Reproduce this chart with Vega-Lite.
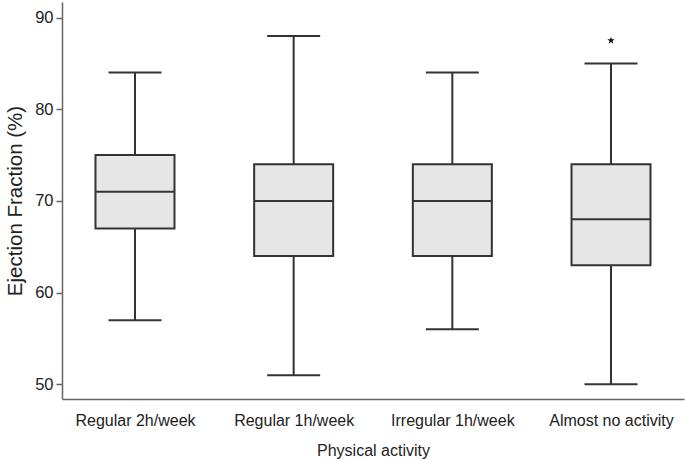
{
  "$schema": "https://vega.github.io/schema/vega-lite/v6.json",
  "autosize": "none",
  "width": 622,
  "height": 397,
  "padding": {"left": 62, "top": 2, "right": 1, "bottom": 60},
  "background": "white",
  "config": {
    "view": {"stroke": null},
    "font": "Liberation Sans",
    "axis": {"labelFont": "Liberation Sans", "titleFont": "Liberation Sans", "labelColor": "#222", "titleColor": "#222", "titleFontWeight": "normal", "domainColor": "#666", "tickColor": "#666", "domainWidth": 1.5, "tickWidth": 1.5, "grid": false}
  },
  "datasets": {
    "boxes": [
      {"activity": "Regular 2h/week", "lower": 57, "q1": 67, "median": 71, "q3": 75, "upper": 84},
      {"activity": "Regular 1h/week", "lower": 51, "q1": 64, "median": 70, "q3": 74, "upper": 88},
      {"activity": "Irregular 1h/week", "lower": 56, "q1": 64, "median": 70, "q3": 74, "upper": 84},
      {"activity": "Almost no activity", "lower": 50, "q1": 63, "median": 68, "q3": 74, "upper": 85}
    ],
    "outliers": [
      {"activity": "Almost no activity", "value": 87.5}
    ]
  },
  "encoding": {
    "x": {
      "field": "activity", "type": "nominal", "sort": null,
      "scale": {"type": "point", "padding": 0.46, "domain": ["Regular 2h/week", "Regular 1h/week", "Irregular 1h/week", "Almost no activity"]},
      "axis": {"title": "Physical activity", "labelAngle": 0, "ticks": false, "labelFontSize": 16, "titleFontSize": 16, "labelPadding": 13, "titlePadding": 14}
    }
  },
  "layer": [
    {
      "data": {"name": "boxes"},
      "mark": {"type": "rule", "color": "#333", "strokeWidth": 2},
      "encoding": {
        "y": {"field": "lower", "type": "quantitative",
          "scale": {"domain": [48.4, 91.7], "nice": false, "zero": false},
          "axis": {"title": "Ejection Fraction (%)", "values": [50, 60, 70, 80, 90], "tickSize": 6, "labelFontSize": 16.5, "titleFontSize": 20.5, "labelPadding": 3, "titlePadding": 9}},
        "y2": {"field": "upper"}
      }
    },
    {
      "data": {"name": "boxes"},
      "mark": {"type": "bar", "size": 79, "fill": "#e6e6e6", "stroke": "#333", "strokeWidth": 2},
      "encoding": {
        "y": {"field": "q1", "type": "quantitative"},
        "y2": {"field": "q3"}
      }
    },
    {
      "data": {"name": "boxes"},
      "mark": {"type": "tick", "size": 79, "thickness": 2, "color": "#333", "opacity": 1},
      "encoding": {"y": {"field": "median", "type": "quantitative"}}
    },
    {
      "data": {"name": "boxes"},
      "mark": {"type": "tick", "size": 53, "thickness": 2, "color": "#333", "opacity": 1},
      "encoding": {"y": {"field": "lower", "type": "quantitative"}}
    },
    {
      "data": {"name": "boxes"},
      "mark": {"type": "tick", "size": 53, "thickness": 2, "color": "#333", "opacity": 1},
      "encoding": {"y": {"field": "upper", "type": "quantitative"}}
    },
    {
      "data": {"name": "outliers"},
      "mark": {"type": "point", "filled": true, "color": "#111", "opacity": 1, "size": 60,
        "shape": "M0,-1L0.235,-0.324L0.951,-0.309L0.380,0.124L0.588,0.809L0,0.4L-0.588,0.809L-0.380,0.124L-0.951,-0.309L-0.235,-0.324Z"},
      "encoding": {"y": {"field": "value", "type": "quantitative"}}
    }
  ]
}
